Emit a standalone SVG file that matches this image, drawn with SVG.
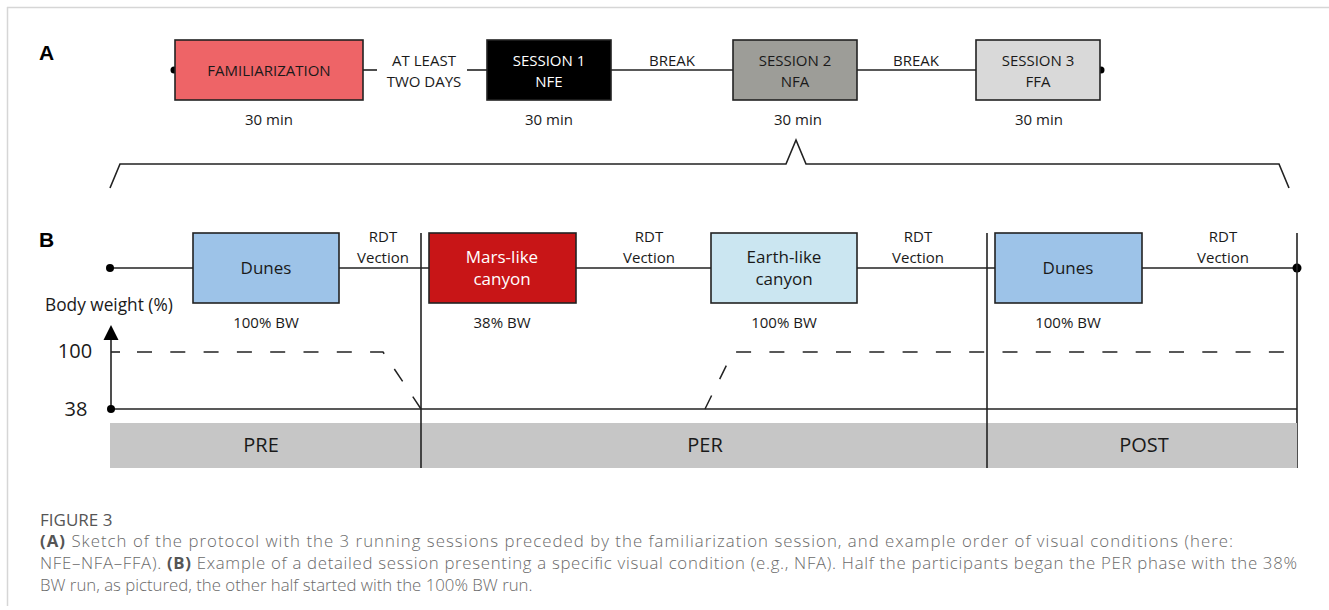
<svg xmlns="http://www.w3.org/2000/svg" width="1329" height="610" viewBox="0 0 1329 610">
<defs>
<style>
text{font-family:"Open Sans","Noto Sans","Liberation Sans",sans-serif;fill:#1a1a1a}
.box{stroke:#222;stroke-width:1.6}
.ln{stroke:#222;stroke-width:1.6;fill:none}
.t15{font-size:15px}
.t16{font-size:16px}
.t17{font-size:17px}
.t20{font-size:20px}
.mid{text-anchor:middle}
.dash{stroke:#222;stroke-width:1.5;fill:none;stroke-dasharray:15 18.3}
.cap{font-size:16.8px;font-weight:300;fill:#6a6a6a}
.capb{font-weight:bold;fill:#555}
.lbl{font-family:"Liberation Sans",Arial,sans-serif;font-weight:bold;font-size:21px;fill:#000}
</style>
</defs>
<rect x="0" y="0" width="1329" height="610" fill="#fff"/>
<g id="frame" stroke="#d6d6d6" stroke-width="1.5">
<line x1="7" y1="7.5" x2="1329" y2="7.5"/>
<line x1="7.5" y1="7" x2="7.5" y2="606"/>
</g>
<text class="lbl" x="39" y="60">A</text>
<text class="lbl" x="39" y="247">B</text>

<g id="connectors">
<line class="ln" x1="363" y1="70" x2="377" y2="70"/>
<line class="ln" x1="467" y1="70" x2="487" y2="70"/>
<line class="ln" x1="611" y1="70" x2="733" y2="70"/>
<line class="ln" x1="857" y1="70" x2="976" y2="70"/>
<circle cx="174" cy="70" r="3.5" fill="#000"/>
<circle cx="1101" cy="70" r="3.5" fill="#000"/>
<path class="ln" d="M110,188 L120,164 L786,164 L796,140 L806,164 L1279,164 L1289,188"/>
<line class="ln" x1="110" y1="268" x2="1297" y2="268"/>
<circle cx="110" cy="268" r="4" fill="#000"/>
<circle cx="1297" cy="268" r="4.5" fill="#000"/>
<line class="ln" x1="421" y1="233" x2="421" y2="468"/>
<line class="ln" x1="987" y1="233" x2="987" y2="468"/>
<line class="ln" x1="1297" y1="233" x2="1297" y2="468"/>
<line class="ln" x1="111" y1="409" x2="111" y2="336"/>
<polygon points="111,325 103.5,340 118.5,340" fill="#000"/>
<line class="ln" x1="111" y1="409" x2="1297" y2="409"/>
<circle cx="111" cy="409" r="4" fill="#000"/>
<line class="ln" x1="111" y1="352" x2="120" y2="352"/>
<path class="dash" d="M137,352 L383,352 L421,409"/>
<path class="dash" d="M705,409 L733,352 L1297,352"/>
</g>

<g id="familiarization">
<rect class="box" x="175" y="40" width="188" height="60" fill="#ee6467"/>
<text class="t15 mid" x="269" y="76">FAMILIARIZATION</text>
<text class="t15 mid" x="269" y="125">30 min</text>
</g>
<g id="gap-label">
<text class="t15 mid" x="424" y="66">AT LEAST</text>
<text class="t15 mid" x="424" y="87">TWO DAYS</text>
</g>
<g id="session1">
<rect class="box" x="487" y="40" width="124" height="60" fill="#000"/>
<text class="t15 mid" x="549" y="66" style="fill:#fff">SESSION 1</text>
<text class="t15 mid" x="549" y="87" style="fill:#fff">NFE</text>
<text class="t15 mid" x="549" y="125">30 min</text>
</g>
<g id="break1"><text class="t15 mid" x="672" y="66">BREAK</text></g>
<g id="session2">
<rect class="box" x="733" y="40" width="124" height="60" fill="#9d9d98"/>
<text class="t15 mid" x="795" y="66">SESSION 2</text>
<text class="t15 mid" x="795" y="87">NFA</text>
<text class="t15 mid" x="798" y="125">30 min</text>
</g>
<g id="break2"><text class="t15 mid" x="916" y="66">BREAK</text></g>
<g id="session3">
<rect class="box" x="976" y="40" width="124" height="60" fill="#d9d9d9"/>
<text class="t15 mid" x="1038" y="66">SESSION 3</text>
<text class="t15 mid" x="1038" y="87">FFA</text>
<text class="t15 mid" x="1039" y="125">30 min</text>
</g>

<g id="dunes1">
<rect class="box" x="193" y="233" width="146" height="70" fill="#9dc3e8"/>
<text class="t17 mid" x="266" y="274">Dunes</text>
<text class="t15 mid" x="266" y="328">100% BW</text>
</g>
<g id="rdt1"><text class="t15 mid" x="383" y="242">RDT</text><text class="t15 mid" x="383" y="263">Vection</text></g>
<g id="mars">
<rect class="box" x="429" y="233" width="147" height="70" fill="#c81517"/>
<text class="t17 mid" x="502" y="263" style="fill:#fff">Mars-like</text>
<text class="t17 mid" x="502" y="285" style="fill:#fff">canyon</text>
<text class="t15 mid" x="502" y="328">38% BW</text>
</g>
<g id="rdt2"><text class="t15 mid" x="649" y="242">RDT</text><text class="t15 mid" x="649" y="263">Vection</text></g>
<g id="earth">
<rect class="box" x="711" y="233" width="146" height="70" fill="#cbe6f1"/>
<text class="t17 mid" x="784" y="263">Earth-like</text>
<text class="t17 mid" x="784" y="285">canyon</text>
<text class="t15 mid" x="784" y="328">100% BW</text>
</g>
<g id="rdt3"><text class="t15 mid" x="918" y="242">RDT</text><text class="t15 mid" x="918" y="263">Vection</text></g>
<g id="dunes2">
<rect class="box" x="995" y="233" width="147" height="70" fill="#9dc3e8"/>
<text class="t17 mid" x="1068" y="274">Dunes</text>
<text class="t15 mid" x="1068" y="328">100% BW</text>
</g>
<g id="rdt4"><text class="t15 mid" x="1223" y="242">RDT</text><text class="t15 mid" x="1223" y="263">Vection</text></g>

<g id="axis-labels">
<text x="45" y="311" style="font-size:17.3px">Body weight (%)</text>
<text class="t20 mid" x="75" y="358">100</text>
<text class="t20 mid" x="76" y="416">38</text>
</g>

<g id="phases">
<rect x="110" y="423" width="311" height="45" fill="#c6c6c6"/>
<rect x="421" y="423" width="566" height="45" fill="#c6c6c6"/>
<rect x="987" y="423" width="310" height="45" fill="#c6c6c6"/>
<line class="ln" x1="421" y1="423" x2="421" y2="468"/>
<line class="ln" x1="987" y1="423" x2="987" y2="468"/>
<text class="t20 mid" x="261" y="452">PRE</text>
<text class="t20 mid" x="705" y="452">PER</text>
<text class="t20 mid" x="1144" y="452">POST</text>
</g>

<g id="caption">
<text x="40" y="526" style="font-size:17px;fill:#555">FIGURE 3</text>
<text class="cap" x="40" y="547" textLength="1193" lengthAdjust="spacing"><tspan class="capb">(A)</tspan> Sketch of the protocol with the 3 running sessions preceded by the familiarization session, and example order of visual conditions (here:</text>
<text class="cap" x="40" y="569" textLength="1257" lengthAdjust="spacing">NFE–NFA–FFA). <tspan class="capb">(B)</tspan> Example of a detailed session presenting a specific visual condition (e.g., NFA). Half the participants began the PER phase with the 38%</text>
<text class="cap" x="40" y="591">BW run, as pictured, the other half started with the 100% BW run.</text>
</g>
</svg>
